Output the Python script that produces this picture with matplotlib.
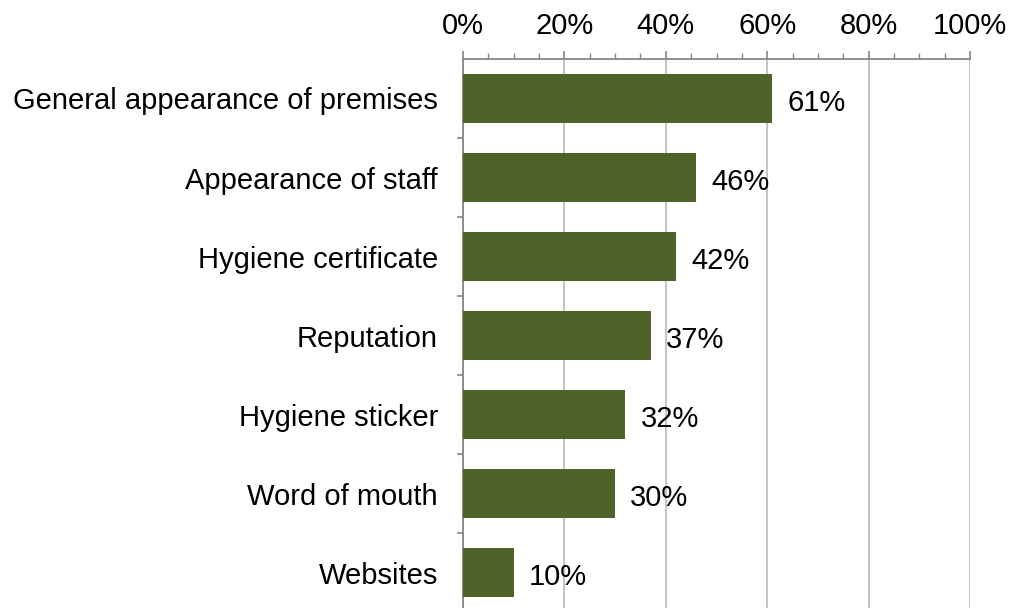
import matplotlib
matplotlib.use('Agg')
import matplotlib.pyplot as plt
from matplotlib.ticker import MultipleLocator, FixedLocator, PercentFormatter

categories = ['General appearance of premises', 'Appearance of staff',
              'Hygiene certificate', 'Reputation', 'Hygiene sticker',
              'Word of mouth', 'Websites']
values = [61, 46, 42, 37, 32, 30, 10]

BAR   = '#4F6228'
GRID  = '#BFBFBF'
AXIS  = '#868686'

plt.rcParams['font.family'] = ['Liberation Sans', 'DejaVu Sans']

fig = plt.figure(figsize=(10.13, 6.08), dpi=100)
ax = fig.add_axes([463/1013, -0.007, (970-463)/1013, 0.910])

pos = list(range(len(categories)))
ax.barh(pos, values, height=0.62, color=BAR, zorder=3)
for p, v in zip(pos, values):
    ax.text(v + 3, p + 0.06, f'{v}%', va='center', ha='left', fontsize=21, zorder=4)

ax.set_xlim(0, 100)
ax.set_ylim(len(categories) - 0.5, -0.5)

# value axis along the top
ax.xaxis.tick_top()
ax.xaxis.set_major_locator(MultipleLocator(20))
ax.xaxis.set_minor_locator(MultipleLocator(5))
ax.xaxis.set_major_formatter(PercentFormatter(decimals=0))
ax.tick_params(axis='x', which='major', length=6, width=1.2, color=AXIS,
               labelsize=21, pad=8)
ax.tick_params(axis='x', which='minor', length=4, width=1, color=AXIS)
ax.grid(axis='x', which='major', color=GRID, linewidth=1.3, zorder=0)

# category labels without ticks, ticks between categories
ax.set_yticks(pos)
ax.set_yticklabels(categories)
ax.yaxis.set_minor_locator(FixedLocator([p + 0.5 for p in pos[:-1]]))
ax.tick_params(axis='y', which='major', length=0, labelsize=21, pad=18)
ax.tick_params(axis='y', which='minor', length=4.5, width=1.2, color=AXIS)

for side in ['right', 'bottom']:
    ax.spines[side].set_visible(False)
for side in ['left', 'top']:
    ax.spines[side].set_color(AXIS)
    ax.spines[side].set_linewidth(1.3)

fig.savefig('out.png', dpi=100)
